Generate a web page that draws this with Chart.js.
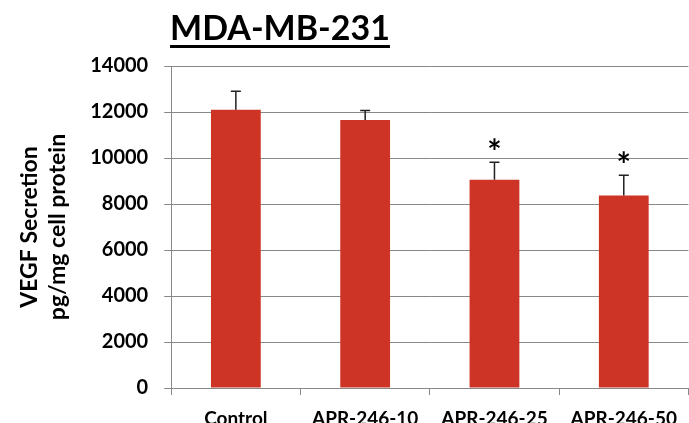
<!DOCTYPE html>
<html>
<head>
    <title></title>
    <meta charset="utf-8" />
    <style>
        body { margin: 0; background: #fff; }
        #wrap { position: relative; width: 689px; height: 423px; }
        #ttl { position: absolute; left: 0; top: 6px; width: 560px; text-align: center;
               font-family: Lato, sans-serif; font-weight: bold; font-size: 34px;
               text-decoration: underline; text-decoration-thickness: 3px; text-underline-offset: 5px; color: #000; }
    </style>
    <script src="https://cdn.jsdelivr.net/npm/chart.js"></script>
</head>
<body>
<div id="wrap">
    <canvas id="myChart" width="689" height="423"></canvas>
    <div id="ttl">MDA-MB-231</div>
</div>
<script>
let labels = ['Control', 'APR-246-10', 'APR-246-25', 'APR-246-50'];
let values = [12100, 11650, 9050, 8370];
let errors = [800, 420, 760, 880];
let marks = ['', '', '*', '*'];
let yTicks = [0, 2000, 4000, 6000, 8000, 10000, 12000, 14000];

let errPlugin = {
    id: 'errs',
    afterDatasetsDraw(chart) {
        let ctx = chart.ctx;
        let meta = chart.getDatasetMeta(0);
        let y = chart.scales.y;
        ctx.save();
        meta.data.forEach((bar, i) => {
            let top = y.getPixelForValue(values[i] + errors[i]);
            ctx.strokeStyle = '#222';
            ctx.lineWidth = 1.5;
            ctx.beginPath();
            ctx.moveTo(bar.x, bar.y);
            ctx.lineTo(bar.x, top);
            ctx.moveTo(bar.x - 5, top);
            ctx.lineTo(bar.x + 5, top);
            ctx.stroke();
            if (marks[i]) {
                ctx.fillStyle = '#000';
                ctx.font = 'bold 34px Lato';
                ctx.textAlign = 'center';
                ctx.textBaseline = 'bottom';
                ctx.fillText(marks[i], bar.x, top + 8);
            }
        });
        ctx.restore();
    }
};

let ctx = document.getElementById('myChart').getContext('2d');
let myChart = new Chart(ctx, {
    type: 'bar',
    data: {
        labels: labels,
        datasets: [{
            data: values,
            backgroundColor: 'rgb(205,52,38)',
            categoryPercentage: 1,
            barPercentage: 0.385
        }]
    },
    options: {
        responsive: false,
        animation: false,
        layout: { padding: { top: 66, right: 0, left: 12, bottom: 0 } },
        plugins: { legend: { display: false }, tooltip: { enabled: false } },
        scales: {
            x: {
                afterFit(axis) { axis.height = 35; },
                grid: { drawOnChartArea: false, color: '#888', tickLength: 7 },
                border: { color: '#888' },
                ticks: { color: '#000', padding: 12, font: { family: 'Lato', weight: 'bold', size: 19 } }
            },
            y: {
                min: 0, max: 14000,
                afterBuildTicks(axis) { axis.ticks = yTicks.map(v => ({ value: v })); },
                grid: { color: '#888', tickLength: 7 },
                border: { color: '#888' },
                ticks: { color: '#000', padding: 16, callback: v => String(v), font: { family: 'Lato', weight: 'bold', size: 20 } },
                title: {
                    display: true,
                    text: ['VEGF Secretion', 'pg/mg cell protein'],
                    color: '#000',
                    font: { family: 'Lato', weight: 'bold', size: 23 },
                    padding: { bottom: 3 }
                }
            }
        }
    },
    plugins: [errPlugin]
});
</script>
</body>
</html>
